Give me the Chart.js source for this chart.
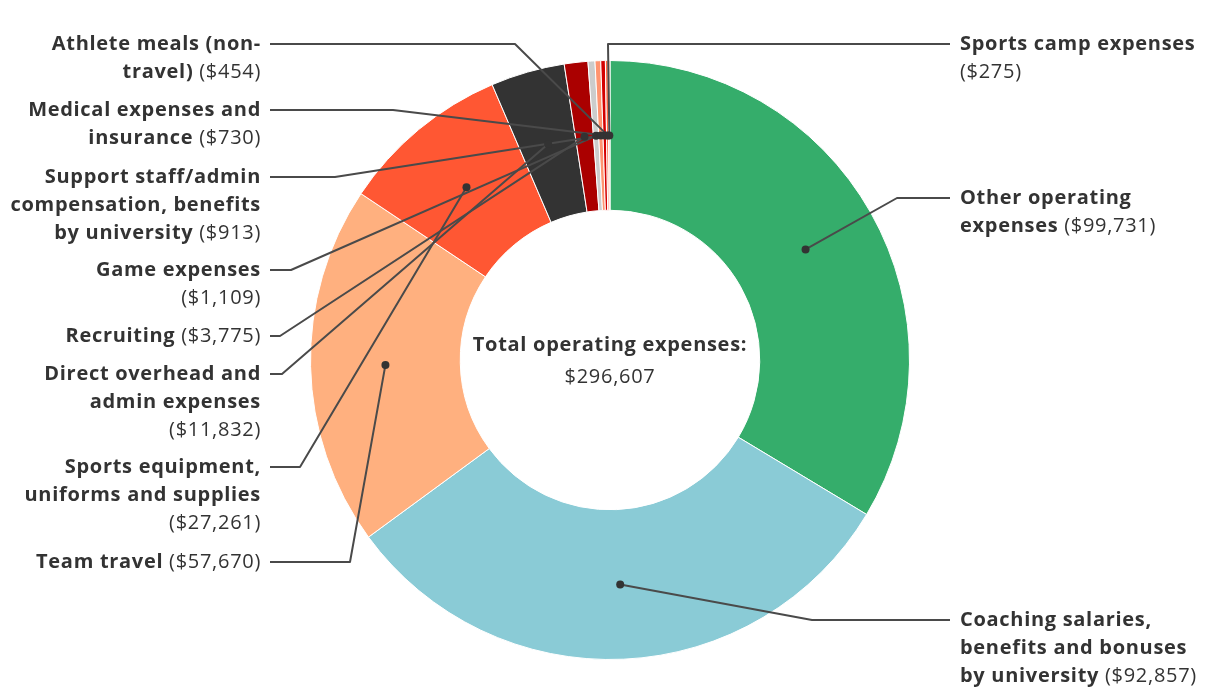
<!DOCTYPE html>
<html>
<head>
<meta charset="utf-8">
<script src="https://cdn.jsdelivr.net/npm/chart.js@4.4.1/dist/chart.umd.min.js"></script>
<style>
  html, body { margin: 0; padding: 0; background: #ffffff; }
  #wrap { width: 1220px; height: 700px; position: relative; }
</style>
</head>
<body>
<div id="wrap"><canvas id="c" width="1220" height="700"></canvas></div>
<script>
// ---- Data ----
const categories = [
  "Other operating expenses",
  "Coaching salaries, benefits and bonuses by university",
  "Team travel",
  "Sports equipment, uniforms and supplies",
  "Direct overhead and admin expenses",
  "Recruiting",
  "Game expenses",
  "Support staff/admin compensation, benefits by university",
  "Medical expenses and insurance",
  "Athlete meals (non-travel)",
  "Sports camp expenses"
];
const values = [99731, 92857, 57670, 27261, 11832, 3775, 1109, 913, 730, 454, 275];
const sliceColors = ["#35ad6b", "#8acbd6", "#ffb07f", "#ff5733", "#333333", "#aa0000",
                     "#cccccc", "#ff9470", "#d40000", "#ff6a45", "#ffb590"];
// label text lines; "{v}" is replaced by the formatted value
const labelLines = [
  ["Other operating", "expenses {v}"],
  ["Coaching salaries,", "benefits and bonuses", "by university {v}"],
  ["Team travel {v}"],
  ["Sports equipment,", "uniforms and supplies", "{v}"],
  ["Direct overhead and", "admin expenses", "{v}"],
  ["Recruiting {v}"],
  ["Game expenses", "{v}"],
  ["Support staff/admin", "compensation, benefits", "by university {v}"],
  ["Medical expenses and", "insurance {v}"],
  ["Athlete meals (non-", "travel) {v}"],
  ["Sports camp expenses", "{v}"]
];
const centerTitle = "Total operating expenses:";

// ---- Label layout (positions only) ----
const labelLayout = [
  { side: "right", y: 198, ex: 897 },
  { side: "right", y: 620, ex: 812 },
  { side: "left",  y: 562, ex: 350 },
  { side: "left",  y: 467, ex: 300 },
  { side: "left",  y: 374, ex: 282 },
  { side: "left",  y: 336, ex: 280 },
  { side: "left",  y: 270, ex: 291 },
  { side: "left",  y: 177, ex: 335 },
  { side: "left",  y: 110, ex: 393 },
  { side: "left",  y: 44,  ex: 515 },
  { side: "right", y: 44,  ex: 608 }
];

const fmt = v => "($" + v.toLocaleString("en-US") + ")";
const total = values.reduce((a, b) => a + b, 0);
const FONT = "'Open Sans', Roboto, sans-serif";
const FS = 20;
const LS = "0.7px";
const LH = 28;
const TEXT = "#333333";
const LINE = "#4a4a4a";

const leaderPlugin = {
  id: "leaders",
  afterDatasetsDraw(chart) {
    const ctx = chart.ctx;
    const meta = chart.getDatasetMeta(0);
    ctx.save();
    ctx.strokeStyle = LINE;
    ctx.lineWidth = 2;
    ctx.lineJoin = "round";
    meta.data.forEach((arc, i) => {
      const p = arc.getCenterPoint();
      const L = labelLayout[i];
      ctx.beginPath();
      if (L.side === "left") {
        ctx.moveTo(270, L.y);
        ctx.lineTo(L.ex, L.y);
        ctx.lineTo(p.x, p.y);
      } else {
        ctx.moveTo(p.x, p.y);
        ctx.lineTo(L.ex, L.y);
        ctx.lineTo(950, L.y);
      }
      ctx.stroke();
    });
    ctx.fillStyle = "#333333";
    meta.data.forEach((arc) => {
      const p = arc.getCenterPoint();
      ctx.beginPath();
      ctx.arc(p.x, p.y, 4, 0, Math.PI * 2);
      ctx.fill();
    });
    ctx.textBaseline = "middle";
    ctx.fillStyle = TEXT;
    try { ctx.letterSpacing = LS; } catch (e) {}
    const bold = "bold " + FS + "px " + FONT;
    const reg = FS + "px " + FONT;
    labelLines.forEach((lines, i) => {
      const L = labelLayout[i];
      lines.forEach((line, j) => {
        const y = L.y + j * LH;
        let boldPart = line, regPart = "";
        if (line.indexOf("{v}") >= 0) {
          boldPart = line.replace("{v}", "").trimEnd();
          regPart = (boldPart.length ? " " : "") + fmt(values[i]);
        }
        ctx.font = bold;
        const wb = ctx.measureText(boldPart).width;
        ctx.font = reg;
        const wr = ctx.measureText(regPart).width;
        let x = L.side === "left" ? 261 - (wb + wr) : 960;
        ctx.textAlign = "left";
        ctx.font = bold;
        ctx.fillText(boldPart, x, y);
        ctx.font = reg;
        ctx.fillText(regPart, x + wb, y);
      });
    });
    const c = meta.data[0];
    ctx.textAlign = "center";
    ctx.font = "bold " + FS + "px " + FONT;
    ctx.fillText(centerTitle, c.x, c.y - 15);
    ctx.font = FS + "px " + FONT;
    ctx.fillText("$" + total.toLocaleString("en-US"), c.x, c.y + 17);
    ctx.restore();
  }
};

new Chart(document.getElementById("c"), {
  type: "doughnut",
  data: {
    labels: categories,
    datasets: [{
      data: values,
      backgroundColor: sliceColors,
      borderColor: "#ffffff",
      borderWidth: 1
    }]
  },
  options: {
    responsive: false,
    animation: false,
    cutout: "50%",
    layout: { padding: { top: 60, bottom: 40, left: 310, right: 310 } },
    plugins: { legend: { display: false }, tooltip: { enabled: false } },
    events: []
  },
  plugins: [leaderPlugin]
});
</script>
</body>
</html>
